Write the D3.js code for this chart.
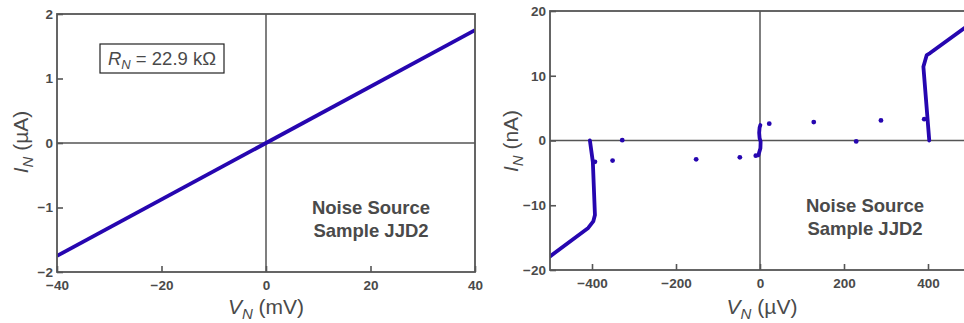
<!DOCTYPE html>
<html><head><meta charset="utf-8">
<script src="https://cdn.jsdelivr.net/npm/d3@7"></script>
<style>
html,body{margin:0;padding:0;background:#fff;overflow:hidden}
svg{display:block;font-family:"Liberation Sans",Arial,sans-serif}
</style></head>
<body>
<svg id="c" width="964" height="323"></svg>
<script>
// ---- data ----
const leftV = [-40, 40];                 // mV
const leftI = [-1.75, 1.75];             // µA
const leftXTicks = [-40, -20, 0, 20, 40];
const leftYTicks = [-2, -1, 0, 1, 2];

const negBranchV = [-500, -409, -397, -393, -398, -405];   // µV
const negBranchI = [-17.9, -13.5, -12.5, -11.5, -3.3, 0];  // nA
const posBranchV = [403, 389, 397, 405, 500];
const posBranchI = [0, 11.4, 13.2, 13.5, 18.0];
const centerV = [-4, 1, 1.5, -1, -2, -1, 1];
const centerI = [-2.3, -1.2, -0.2, 0.4, 1.2, 2.0, 2.4];
const dotsV = [-393, -351, -328, -152, -48, -10, 22, 128, 229, 288, 391];
const dotsI = [-3.3, -3.1, 0.05, -2.9, -2.6, -2.35, 2.6, 2.85, -0.15, 3.1, 3.3];
const rightXTicks = [-400, -200, 0, 200, 400];
const rightYTicks = [-20, -10, 0, 10, 20];

const lineColor = "#2606b0";
const frameColor = "#555555";
const textColor = "#4a4a4a";

const svg = d3.select("#c");
const fmt = d3.format("");

function panel(cfg) {
  const g = svg.append("g");
  const x = d3.scaleLinear().domain(cfg.xDomain).range([cfg.left, cfg.right]);
  const y = d3.scaleLinear().domain(cfg.yDomain).range([cfg.bottom, cfg.top]);
  const clipId = "clip" + cfg.id;
  svg.append("clipPath").attr("id", clipId).append("rect")
    .attr("x", cfg.left).attr("y", cfg.top)
    .attr("width", cfg.right - cfg.left).attr("height", cfg.bottom - cfg.top);

  // zero lines
  g.append("line").attr("x1", x(0)).attr("x2", x(0)).attr("y1", cfg.top).attr("y2", cfg.bottom)
    .attr("stroke", frameColor).attr("stroke-width", 1.5);
  g.append("line").attr("x1", cfg.left).attr("x2", cfg.right).attr("y1", y(0)).attr("y2", y(0))
    .attr("stroke", frameColor).attr("stroke-width", 1.5);

  // data
  const dg = g.append("g").attr("clip-path", `url(#${clipId})`);
  cfg.draw(dg, x, y);

  // frame
  g.append("rect").attr("x", cfg.left).attr("y", cfg.top)
    .attr("width", cfg.right - cfg.left).attr("height", cfg.bottom - cfg.top)
    .attr("fill", "none").attr("stroke", frameColor).attr("stroke-width", 1.8);

  // axes
  const ax = g.append("g").attr("transform", `translate(0,${cfg.bottom})`)
    .call(d3.axisBottom(x).tickValues(cfg.xTicks).tickSize(-6).tickPadding(8).tickFormat(fmt));
  const ay = g.append("g").attr("transform", `translate(${cfg.left},0)`)
    .call(d3.axisLeft(y).tickValues(cfg.yTicks).tickSize(-6).tickPadding(4).tickFormat(fmt));
  [ax, ay].forEach(a => {
    a.select(".domain").remove();
    a.selectAll(".tick line").attr("stroke", frameColor).attr("stroke-width", 1.6);
    a.selectAll(".tick text").attr("fill", textColor).attr("font-size", 13.5)
      .attr("font-weight", "bold").attr("font-family", "Liberation Sans, Arial, sans-serif");
  });

  // x title
  const xt = g.append("text").attr("x", cfg.xTitleX).attr("y", 314)
    .attr("text-anchor", "middle").attr("fill", textColor).attr("font-size", 21);
  xt.append("tspan").attr("font-style", "italic").text("V");
  xt.append("tspan").attr("font-style", "italic").attr("font-size", 15).attr("dy", 5).text("N");
  xt.append("tspan").attr("dy", -5).text(" (" + cfg.xUnit + ")");

  // y title
  const yt = g.append("text").attr("transform", `translate(${cfg.yTitleX},${cfg.yTitleY}) rotate(-90)`)
    .attr("text-anchor", "middle").attr("fill", textColor).attr("font-size", 21);
  yt.append("tspan").attr("font-style", "italic").text("I");
  yt.append("tspan").attr("font-style", "italic").attr("font-size", 15).attr("dy", 5).text("N");
  yt.append("tspan").attr("dy", -5).text(" (" + cfg.yUnit + ")");

  // annotation
  const an = g.append("text").attr("x", cfg.noteX).attr("y", cfg.noteY)
    .attr("text-anchor", "middle").attr("fill", textColor).attr("font-size", 18.5).attr("font-weight", "bold");
  an.append("tspan").attr("x", cfg.noteX).text("Noise Source");
  an.append("tspan").attr("x", cfg.noteX).attr("dy", 23).text("Sample JJD2");
  return {g, x, y};
}

// left panel
const L = panel({
  id: "L", left: 57, right: 475, top: 14, bottom: 272,
  xDomain: [-40, 40], yDomain: [-2, 2], xTicks: leftXTicks, yTicks: leftYTicks,
  xUnit: "mV", yUnit: "µA", xTitleX: 266, yTitleX: 28, yTitleY: 142,
  noteX: 371, noteY: 214,
  draw: (dg, x, y) => {
    dg.append("path").datum(d3.range(leftV.length))
      .attr("d", d3.line().x(i => x(leftV[i])).y(i => y(leftI[i])))
      .attr("fill", "none").attr("stroke", lineColor).attr("stroke-width", 3.8);
  }
});

// R_N box
L.g.append("rect").attr("x", 100).attr("y", 44).attr("width", 124).attr("height", 29)
  .attr("fill", "#fff").attr("stroke", "#222").attr("stroke-width", 1.2);
const rt = L.g.append("text").attr("x", 162).attr("y", 65).attr("text-anchor", "middle")
  .attr("fill", textColor).attr("font-size", 18.5);
rt.append("tspan").attr("font-style", "italic").text("R");
rt.append("tspan").attr("font-style", "italic").attr("font-size", 13).attr("dy", 4).text("N");
rt.append("tspan").attr("dy", -4).text(" = 22.9 kΩ");

// right panel
panel({
  id: "R", left: 550, right: 970, top: 11, bottom: 270,
  xDomain: [-500, 500], yDomain: [-20, 20], xTicks: rightXTicks, yTicks: rightYTicks,
  xUnit: "µV", yUnit: "nA", xTitleX: 762, yTitleX: 518, yTitleY: 141,
  noteX: 865, noteY: 212,
  draw: (dg, x, y) => {
    const line = d3.line();
    [[negBranchV, negBranchI], [posBranchV, posBranchI], [centerV, centerI]].forEach(([vs, is]) => {
      dg.append("path").datum(vs.map((v, i) => [x(v), y(is[i])]))
        .attr("d", line).attr("fill", "none").attr("stroke", lineColor)
        .attr("stroke-width", 3.8).attr("stroke-linejoin", "round").attr("stroke-linecap", "round");
    });
    dg.selectAll("circle.d").data(d3.range(dotsV.length)).join("circle")
      .attr("cx", i => x(dotsV[i])).attr("cy", i => y(dotsI[i])).attr("r", 2.4)
      .attr("fill", lineColor);
  }
});
</script>
</body></html>
